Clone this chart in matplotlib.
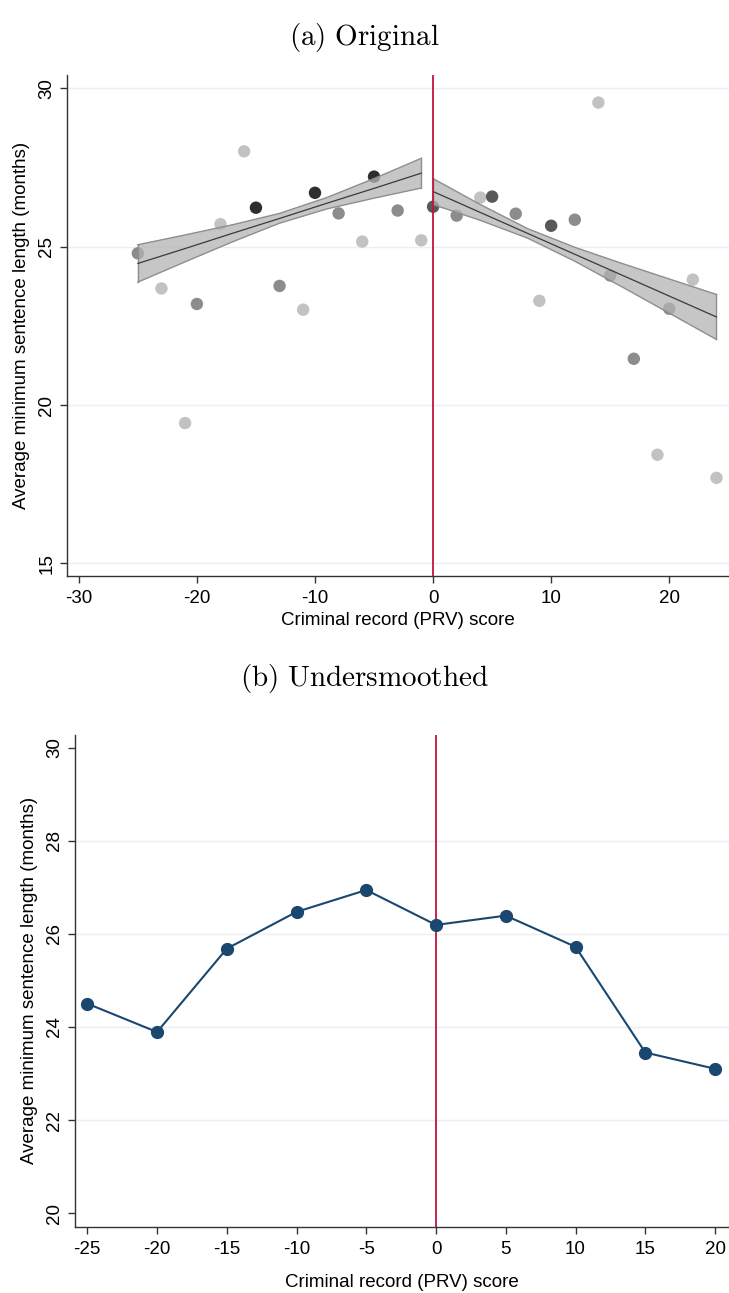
# Two-panel RD plot: (a) binned scatter with linear fits, (b) undersmoothed bins
import numpy as np
import matplotlib
matplotlib.use("Agg")
import matplotlib.pyplot as plt

plt.rcParams['font.family'] = ['Liberation Sans', 'DejaVu Sans']
plt.rcParams['mathtext.fontset'] = 'cm'
plt.rcParams['axes.unicode_minus'] = False

# Panel (a): binned means, shade = bin weight class
score_a = [-25, -23, -21, -20, -18, -16, -15, -13, -11, -10, -8, -6, -5, -3, -1,
           0, 2, 4, 5, 7, 9, 10, 12, 14, 15, 17, 19, 20, 22, 24]
mean_a = [24.79, 23.68, 19.43, 23.19, 25.71, 28.01, 26.23, 23.76, 23.01, 26.70, 26.05, 25.16, 27.21, 26.14, 25.20,
          26.26, 25.98, 26.55, 26.58, 26.04, 23.29, 25.66, 25.85, 29.55, 24.09, 21.46, 18.43, 23.04, 23.96, 17.70]
weight_a = [2, 1, 1, 2, 1, 1, 4, 2, 1, 4, 2, 1, 4, 2, 1,
            3, 2, 1, 3, 2, 1, 3, 2, 1, 2, 2, 1, 2, 1, 1]
shades = {1: '#c2c2c2', 2: '#8c8c8c', 3: '#585858', 4: '#2e2e2e'}

# linear fit and 95% CI, left of cutoff
fit_x_left = [-25, -21, -17, -13, -9, -5, -1]
fit_y_left = [24.47, 24.94, 25.42, 25.89, 26.37, 26.84, 27.32]
ci_lo_left = [23.88, 24.52, 25.15, 25.74, 26.19, 26.53, 26.85]
ci_hi_left = [25.06, 25.37, 25.69, 26.05, 26.55, 27.15, 27.79]

# linear fit and 95% CI, right of cutoff
fit_x_right = [0, 4, 8, 12, 16, 20, 24]
fit_y_right = [26.74, 26.08, 25.42, 24.76, 24.10, 23.44, 22.78]
ci_lo_right = [26.33, 25.83, 25.27, 24.54, 23.73, 22.90, 22.07]
ci_hi_right = [27.15, 26.33, 25.57, 24.98, 24.47, 23.98, 23.49]

yticks_a = [15, 20, 25, 30]
xticks_a = [-30, -20, -10, 0, 10, 20]

# Panel (b): undersmoothed bins
score_b = [-25, -20, -15, -10, -5, 0, 5, 10, 15, 20]
mean_b = [24.50, 23.89, 25.68, 26.47, 26.94, 26.19, 26.39, 25.72, 23.45, 23.10]
yticks_b = [20, 22, 24, 26, 28, 30]
grid_b = [22, 24, 26, 28]
xticks_b = [-25, -20, -15, -10, -5, 0, 5, 10, 15, 20]

xlabel = 'Criminal record (PRV) score'
ylabel = 'Average minimum sentence length (months)'
grid_col = '#eaeff2'
red = '#c4123f'
navy = '#1a476f'
fs = 13.5


def style_axes(ax, xpad):
    for s in ['top', 'right']:
        ax.spines[s].set_visible(False)
    for s in ['left', 'bottom']:
        ax.spines[s].set_linewidth(1.0)
        ax.spines[s].set_color('#333333')
    ax.tick_params(direction='out', length=5, width=1.0, color='#333333', labelsize=fs)
    ax.tick_params(axis='x', pad=5)
    for lab in ax.get_yticklabels():
        lab.set_rotation(90)
        lab.set_va('center')
    ax.set_xlabel(xlabel, fontsize=fs, labelpad=xpad)
    ax.set_ylabel(ylabel, fontsize=fs, labelpad=6)


fig = plt.figure(figsize=(7.29, 12.93), dpi=100)

# (a) Original
ax1 = fig.add_axes([0.0919, 0.5545, 0.9081, 0.3875])
for g in yticks_a:
    ax1.axhline(g, color=grid_col, lw=1.0, zorder=0)
cols = [shades[w] for w in weight_a]
ax1.scatter(score_a, mean_a, s=80, c=cols, edgecolors='none', zorder=2)
for fx, fy, lo, hi in [(fit_x_left, fit_y_left, ci_lo_left, ci_hi_left),
                       (fit_x_right, fit_y_right, ci_lo_right, ci_hi_right)]:
    ax1.fill_between(fx, lo, hi, facecolor='#b4b4b4', alpha=0.75, edgecolor='none', zorder=3)
    ax1.plot(fx, lo, color='#8e8e8e', lw=1.0, zorder=4)
    ax1.plot(fx, hi, color='#8e8e8e', lw=1.0, zorder=4)
    ax1.plot([fx[0], fx[0]], [lo[0], hi[0]], color='#8e8e8e', lw=1.0, zorder=4)
    ax1.plot([fx[-1], fx[-1]], [lo[-1], hi[-1]], color='#8e8e8e', lw=1.0, zorder=4)
    ax1.plot(fx, fy, color='#3a3a3a', lw=0.9, zorder=5)
ax1.axvline(0, color=red, lw=1.3, zorder=6)
ax1.set_xlim(-31.0, 25.06)
ax1.set_ylim(14.6, 30.42)
ax1.set_xticks(xticks_a)
ax1.set_yticks(yticks_a)
style_axes(ax1, 4)

# (b) Undersmoothed
ax2 = fig.add_axes([0.1029, 0.0513, 0.8971, 0.3803])
for g in grid_b:
    ax2.axhline(g, color=grid_col, lw=1.0, zorder=0)
ax2.plot(score_b, mean_b, color=navy, lw=1.5, marker='o', markersize=8.5,
         markeredgecolor=navy, zorder=3)
ax2.axvline(0, color=red, lw=1.3, zorder=2)
ax2.set_xlim(-25.88, 21.0)
ax2.set_ylim(19.71, 30.27)
ax2.set_xticks(xticks_b)
ax2.set_yticks(yticks_b)
style_axes(ax2, 12)

fig.text(0.5, 0.971, r'$\mathrm{(a)\ Original}$', ha='center', va='center', fontsize=21)
fig.text(0.5, 0.4756, r'$\mathrm{(b)\ Undersmoothed}$', ha='center', va='center', fontsize=21)

fig.savefig('out.png', dpi=100)
